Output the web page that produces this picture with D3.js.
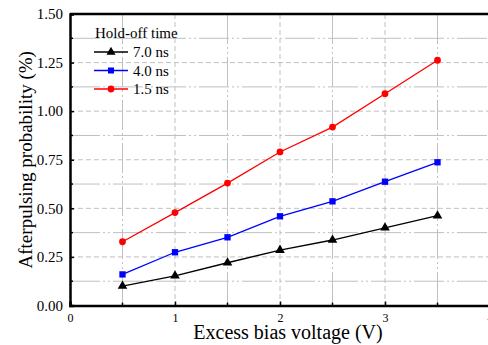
<!DOCTYPE html>
<html>
<head>
<meta charset="utf-8">
<script src="https://cdn.jsdelivr.net/npm/d3@7"></script>
<style>
  html, body { margin: 0; padding: 0; background: #fff; }
</style>
</head>
<body>
<div id="chart"></div>
<script>
// data
var voltages = [0.5, 1, 1.5, 2, 2.5, 3, 3.5];
var ap70 = [0.10, 0.153, 0.22, 0.285, 0.337, 0.40, 0.462];
var ap40 = [0.16, 0.274, 0.351, 0.459, 0.536, 0.637, 0.737];
var ap15 = [0.328, 0.478, 0.63, 0.79, 0.918, 1.09, 1.262];
var seriesNames = ["7.0 ns", "4.0 ns", "1.5 ns"];
var seriesColors = ["#000000", "#0000ff", "#ff0000"];
var seriesShapes = [d3.symbolTriangle, d3.symbolSquare, d3.symbolCircle];
var xTicks = [0, 1, 2, 3, 4];
var yTicks = [0, 0.25, 0.5, 0.75, 1.0, 1.25, 1.5];

var series = [ap70, ap40, ap15];
var serif = "Liberation Serif";

// set the dimensions and margins of the graph
var W = 488, H = 345;
var margin = {top: 14, left: 70},
    width = 420,
    height = 291.5;

var svg = d3.select("#chart")
            .append("svg")
            .attr("width", W)
            .attr("height", H);

var g = svg.append("g")
           .attr("transform", "translate(" + margin.left + "," + margin.top + ")");

var x = d3.scaleLinear().domain([0, 4]).range([0, width]);
var y = d3.scaleLinear().domain([0, 1.5]).range([height, 0]);

// grid lines: major dashed, minor long dash-dot
var xMinor = d3.range(0.5, 4, 1);
var yMinor = d3.range(0.125, 1.5, 0.25);
var grid = g.append("g").attr("stroke", "#c0c0c0").attr("stroke-width", 1);

grid.selectAll(".vmaj").data([1, 2, 3]).enter().append("line")
    .attr("x1", d => x(d)).attr("x2", d => x(d))
    .attr("y1", 0).attr("y2", height)
    .attr("stroke-dasharray", "5,3");
grid.selectAll(".vmin").data(xMinor).enter().append("line")
    .attr("x1", d => x(d)).attr("x2", d => x(d))
    .attr("y1", 0).attr("y2", height)
    .attr("stroke-dasharray", "30,3,2,3,2,3");
grid.selectAll(".hmaj").data([0.25, 0.5, 0.75, 1.0, 1.25]).enter().append("line")
    .attr("x1", 0).attr("x2", width)
    .attr("y1", d => y(d)).attr("y2", d => y(d))
    .attr("stroke-dasharray", "5,3");
grid.selectAll(".hmin").data(yMinor).enter().append("line")
    .attr("x1", 0).attr("x2", width)
    .attr("y1", d => y(d)).attr("y2", d => y(d))
    .attr("stroke-dasharray", "30,3,2,3,2,3");

// axes
var xAxis = g.append("g")
    .attr("transform", "translate(0," + height + ")")
    .call(d3.axisBottom(x).tickValues(xTicks).tickSize(-4).tickPadding(8).tickFormat(d3.format("d")));
xAxis.attr("font-family", serif).attr("font-size", 12);

var yAxis = g.append("g")
    .call(d3.axisLeft(y).tickValues(yTicks).tickSize(-4).tickPadding(7).tickFormat(d3.format(".2f")));
yAxis.attr("font-family", serif).attr("font-size", 15);

[xAxis, yAxis].forEach(function(a) {
  a.select(".domain").attr("stroke-width", 2.5);
  a.selectAll(".tick line").attr("stroke-width", 1.5);
  a.selectAll("text").attr("font-family", serif);
});

// minor ticks
g.append("g").selectAll("line").data(xMinor).enter().append("line")
    .attr("x1", d => x(d)).attr("x2", d => x(d))
    .attr("y1", height).attr("y2", height - 3)
    .attr("stroke", "#000").attr("stroke-width", 1.5);
g.append("g").selectAll("line").data(yMinor).enter().append("line")
    .attr("x1", 0).attr("x2", 3)
    .attr("y1", d => y(d)).attr("y2", d => y(d))
    .attr("stroke", "#000").attr("stroke-width", 1.5);

// top frame line
g.append("line")
    .attr("x1", 0).attr("x2", width)
    .attr("y1", 0).attr("y2", 0)
    .attr("stroke", "#000").attr("stroke-width", 2.5);

// lines + markers
var line = d3.line().x((d, i) => x(voltages[i])).y(d => y(d));
series.forEach(function(vals, s) {
  g.append("path")
      .datum(vals)
      .attr("fill", "none")
      .attr("stroke", seriesColors[s])
      .attr("stroke-width", 1.3)
      .attr("d", line);
  g.append("g").selectAll("path").data(vals).enter().append("path")
      .attr("transform", (d, i) => "translate(" + x(voltages[i]) + "," + y(d) + ")")
      .attr("d", d3.symbol().type(seriesShapes[s]).size(s === 2 ? 36 : 40))
      .attr("fill", seriesColors[s]);
});

// legend
var legend = svg.append("g").attr("font-size", 15).attr("font-family", serif);
legend.append("text").attr("x", 95).attr("y", 38)
    .attr("font-family", serif).text("Hold-off time");
seriesNames.forEach(function(name, s) {
  var ly = 52 + s * 18.5;
  legend.append("line")
      .attr("x1", 94).attr("x2", 128).attr("y1", ly).attr("y2", ly)
      .attr("stroke", seriesColors[s]).attr("stroke-width", 1.5);
  legend.append("path")
      .attr("transform", "translate(111," + ly + ")")
      .attr("d", d3.symbol().type(seriesShapes[s]).size(36))
      .attr("fill", seriesColors[s]);
  legend.append("text").attr("x", 133).attr("y", ly + 5)
      .attr("font-family", serif).text(name);
});

// axis labels
svg.append("text")
    .attr("text-anchor", "middle")
    .attr("x", 288)
    .attr("y", 339)
    .attr("font-family", serif)
    .attr("font-size", 20)
    .text("Excess bias voltage (V)");

svg.append("text")
    .attr("text-anchor", "middle")
    .attr("transform", "translate(32," + (margin.top + height / 2) + ") rotate(-90)")
    .attr("font-family", serif)
    .attr("font-size", 19)
    .text("Afterpulsing probability (%)");
</script>
</body>
</html>
